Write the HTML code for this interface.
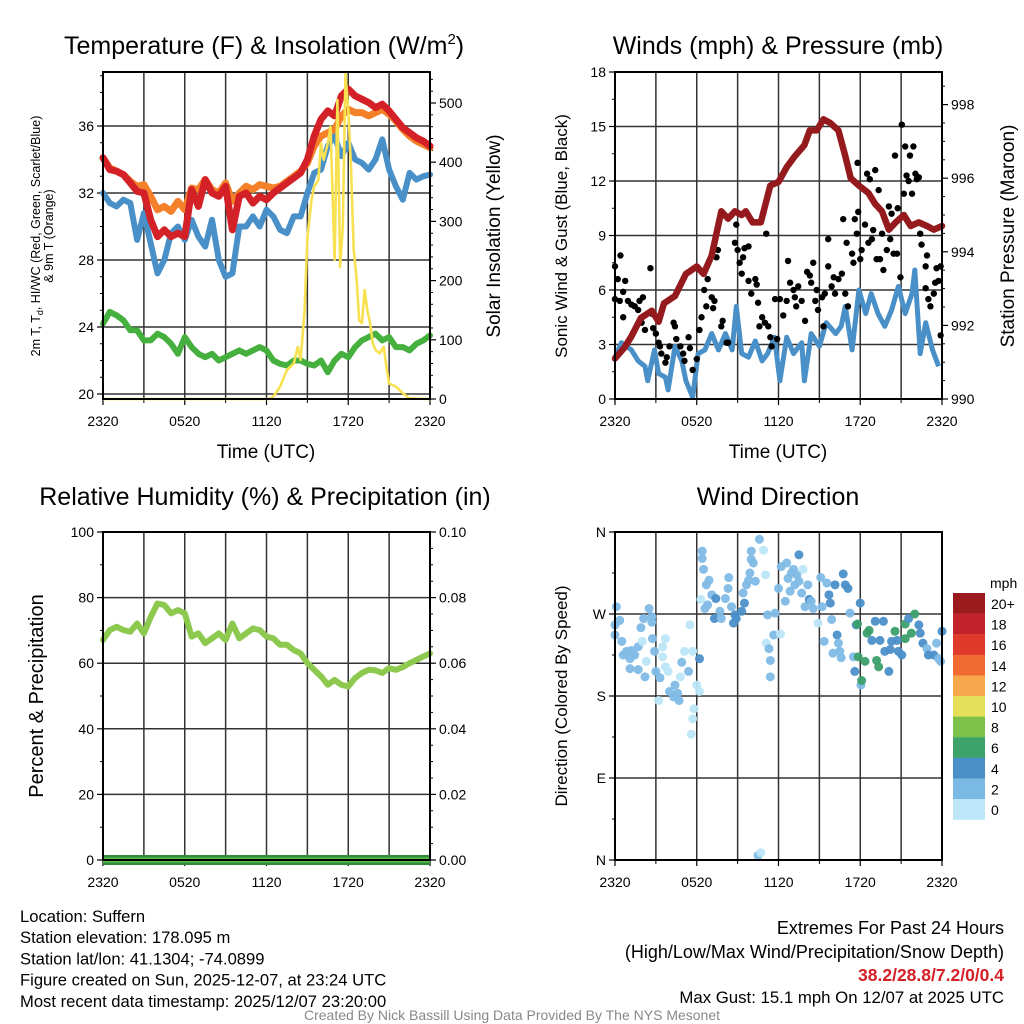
<!DOCTYPE html>
<html><head><meta charset="utf-8"><style>
html,body{margin:0;padding:0;background:#fff;}
svg{display:block;font-family:"Liberation Sans",sans-serif;}
</style></head><body>
<svg id="c" width="1024" height="1024" viewBox="0 0 1024 1024"></svg>
<script>
// ---------- data ----------
const hours = [0,0.5,1,1.5,2,2.5,3,3.5,4,4.5,5,5.5,6,6.5,7,7.5,8,8.5,9,9.5,10,10.5,11,11.5,12,12.5,13,13.5,14,14.5,15,15.5,16,16.5,17,17.5,18,18.5,19,19.5,20,20.5,21,21.5,22,22.5,23,23.5,24];
const tempRed = [34.1,33.4,33.3,33.1,32.6,32.1,32.0,30.4,29.4,29.8,29.4,29.6,29.4,32.2,31.2,32.8,32.0,31.8,32.4,29.8,31.8,32.0,31.4,31.8,31.6,32.0,32.3,32.6,32.9,33.2,34.0,35.4,36.4,36.9,36.6,37.8,38.2,37.8,37.6,37.4,37.1,37.3,36.9,36.4,35.9,35.6,35.3,35.1,34.8];
const tempOrange = [34.1,33.5,33.3,33.1,32.7,32.4,32.5,31.8,31.0,31.2,30.9,31.5,31.0,32.3,32.2,32.8,32.2,32.0,32.6,31.5,32.0,32.4,32.2,32.5,32.4,32.3,32.4,32.7,33.0,33.3,33.8,34.8,35.4,35.6,35.8,36.6,37.0,36.8,36.8,36.6,36.8,37.0,36.7,36.3,35.8,35.4,35.1,34.9,34.7];
const tempBlue = [32.0,31.4,31.2,31.6,31.4,29.2,30.8,29.0,27.2,28.0,29.6,30.0,29.2,30.4,29.4,28.8,30.4,28.0,27.0,27.2,30.0,30.0,30.6,30.0,31.0,30.6,29.8,29.6,30.6,30.6,32.0,33.2,33.4,34.8,35.4,34.2,35.0,34.0,33.8,33.4,34.0,35.2,33.4,32.4,31.6,33.2,32.8,33.0,33.1];
const tempGreen = [24.2,24.9,24.7,24.4,23.8,23.8,23.2,23.2,23.6,23.4,23.0,22.4,23.4,22.8,22.4,22.2,22.4,22.0,22.2,22.4,22.6,22.4,22.6,22.8,22.6,22.0,21.8,21.7,22.0,22.0,21.8,21.7,22.0,21.3,22.0,22.4,22.2,22.8,23.2,23.4,23.6,23.2,23.4,22.8,22.8,22.6,23.0,23.2,23.5];
const solarT = [0,12.2,12.5,13,13.5,14,14.3,14.5,14.8,15,15.3,15.5,15.8,16,16.2,16.5,16.7,17,17.2,17.4,17.6,17.8,18,18.2,18.4,18.6,18.8,19,19.2,19.4,19.6,19.8,20,20.3,20.6,20.8,21,21.5,22,22.5,24];
const solarV = [0,0,4,21,49,60,88,66,150,274,336,359,370,432,404,432,460,235,505,223,291,550,488,392,252,207,133,128,184,150,128,94,83,77,88,55,26,21,10,1,0];
const pressT = [0,0.7,1.2,1.9,2.7,3.2,3.6,4.4,5.2,6.0,6.5,7.1,7.8,8.3,8.8,9.3,9.6,10.1,10.7,11.4,12.0,12.6,13.2,13.9,14.3,14.8,15.3,15.8,16.4,16.9,17.3,17.9,18.6,19.1,19.6,20.1,20.6,21.2,21.7,22.3,22.9,23.4,24];
const pressV = [991.1,991.4,991.7,992.2,992.4,992.1,992.6,992.8,993.4,993.6,993.4,993.9,995.1,994.9,995.1,995.0,995.1,994.8,994.8,995.8,995.9,996.3,996.6,996.9,997.3,997.3,997.6,997.5,997.3,996.6,996.0,995.8,995.6,995.3,995.1,994.6,994.8,995.0,994.7,994.8,994.7,994.6,994.7];
const windT = [0,0.47,1.2,1.7,2.2,2.4,2.9,3.2,3.7,3.9,4.4,4.9,5.2,5.7,6.1,6.6,7.1,7.6,8.1,8.6,8.9,9.3,9.8,10.3,10.8,11.2,11.7,12.1,12.6,13.1,13.7,13.9,14.4,15.0,15.5,16.2,16.6,16.9,17.4,17.9,18.4,18.8,19.3,19.8,20.3,20.8,21.3,21.8,22.0,22.4,22.8,23.3,23.75];
const windV = [2.3,3.1,2.7,2.1,1.8,1.0,2.7,1.4,1.2,0.5,2.9,2.1,1.0,0.1,2.5,2.7,3.6,2.7,3.6,2.7,5.1,2.5,2.3,3.2,2.1,2.5,3.4,1.0,3.4,2.5,3.1,1.0,3.6,2.9,4.2,3.6,4.0,5.1,2.7,6.0,4.7,5.8,4.7,4.0,4.9,6.2,4.7,5.8,7.1,2.5,4.2,2.7,1.8];
const gustT = [0,0.2,0.4,0,0.35,0.6,0.75,0.6,0.95,1.2,1.45,1.8,2.05,1.7,1.95,2.2,2.6,2.7,2.8,3.0,3.2,3.3,3.4,3.7,3.8,4.0,4.3,4.4,4.5,4.8,5.0,5.1,5.4,5.5,5.7,6.0,6.2,6.35,6.55,6.7,6.8,7.1,7.2,7.3,7.45,7.55,7.8,7.9,8.2,8.3,8.8,8.9,9.0,9.15,9.3,9.4,9.5,9.8,9.8,10.0,10.3,10.4,10.5,10.6,10.8,11.0,11.1,11.25,11.4,11.5,11.75,11.9,12.1,12.35,12.6,12.7,12.85,13.1,13.2,13.3,13.45,13.7,13.95,14.1,14.3,14.4,14.55,14.7,14.8,14.9,15.2,15.3,15.4,15.65,15.65,15.9,16.05,16.15,16.4,16.65,16.75,16.9,17.0,17.1,17.4,17.5,17.6,17.75,17.8,17.85,18.0,18.1,18.35,18.5,18.6,18.7,18.85,18.95,19.1,19.2,19.35,19.45,19.6,19.7,19.95,20.1,20.2,20.3,20.45,20.55,20.7,20.75,20.95,21.05,21.2,21.3,21.4,21.55,21.65,21.8,21.9,22.05,22.15,22.3,22.4,22.5,22.8,22.9,22.8,23.0,23.15,23.4,23.5,23.6,23.75,23.9,23.9];
const gustV = [7.3,6.6,7.9,5.5,5.4,5.9,6.5,4.5,5.4,5.2,5.1,5.4,5.6,4.9,4.2,3.8,7.2,4.7,3.9,3.6,3.1,2.9,2.5,2.0,2.3,2.9,4.2,4.0,3.3,2.9,2.5,2.1,3.4,2.8,1.6,2.2,3.8,4.5,6.0,5.1,6.6,5.6,5.0,5.4,7.8,8.2,4.0,4.3,3.1,3.1,8.6,9.6,8.2,7.5,6.9,7.8,8.3,8.4,6.5,5.8,6.6,6.3,5.3,4.0,4.5,4.2,9.1,4.0,3.4,2.9,5.5,3.3,5.5,4.6,5.4,7.6,6.4,6.0,5.6,5.1,6.2,5.4,4.3,7.0,6.8,6.4,7.5,5.4,6.0,4.9,5.6,4.0,5.8,8.8,7.3,6.2,6.7,5.8,6.6,6.9,9.9,5.8,8.6,5.1,8.0,7.5,9.9,9.1,13.0,10.3,7.7,8.2,9.6,12.4,8.6,12.1,8.8,9.3,12.6,7.7,11.5,7.7,9.1,7.1,8.2,10.6,8.8,10.2,8.0,13.4,8.0,10.5,6.7,15.1,11.3,13.9,12.3,12.0,13.4,11.3,13.9,12.4,12.1,12.2,9.1,8.5,7.3,7.9,6.1,5.5,5.1,5.8,6.4,7.2,6.5,3.5,7.3];
const rhV = [67.1,70.1,71.1,70.1,69.6,72.1,69.1,74.1,78.2,77.7,75.2,76.2,75.2,68.1,69.1,66.1,67.6,69.1,67.1,72.1,67.6,69.1,70.6,70.1,68.1,67.6,65.6,65.6,64.0,63.0,60.0,58.0,56.0,53.4,54.9,53.4,52.9,55.5,57.0,58.0,57.8,57.0,58.5,58.0,58.8,60.0,61.0,62.0,63.0];
const precipV = [0,0,0,0,0,0,0,0,0,0,0,0,0,0,0,0,0,0,0,0,0,0,0,0,0,0,0,0,0,0,0,0,0,0,0,0,0,0,0,0,0,0,0,0,0,0,0,0,0];
const dirT = [0,0.1,0.35,0,0.5,0.6,0.85,1.1,1.2,1.45,1.7,1.1,1.7,2.2,1.9,2.1,2.5,2.7,2.7,2.75,2.9,2.3,2,3.0,3.3,3.2,3.5,3.7,3.5,3.7,3.9,4.0,4.3,4.4,4.6,4.7,4.8,4.9,5.1,5.4,5.5,5.7,6.0,6.2,5.8,5.7,5.6,6.2,6.4,6.4,6.5,6.7,6.9,6.3,6.6,6.8,7.1,7.3,7.4,7.7,7.8,8.1,8.3,8.35,8.55,8.8,8.9,8.7,9.3,9.4,9.5,9.65,9.8,9.9,10.0,10.0,10.15,10.3,10.6,10.9,11.05,11.2,11.1,11.3,11.4,11.4,11.65,11.75,12.0,12.15,12.2,12.5,12.6,12.7,12.85,12.95,13.1,13.2,13.35,13.5,13.5,13.7,13.8,13.95,14.15,14.25,14.4,14.55,14.9,15.1,15.2,15.35,15.55,15.7,15.8,15.9,16.15,16.3,16.4,16.0,16.5,16.6,16.75,16.9,17.1,17.25,17.5,17.6,17.7,17.8,18.0,18.05,18.1,17.85,18.35,18.5,18.65,18.85,19.1,19.2,19.35,19.45,19.7,19.8,20.1,20.2,20.3,20.55,20.7,20.8,21.05,21.3,21.3,21.55,21.75,22.0,22.3,22.4,22.6,22.9,23.0,23.4,23.6,23.75,24,23.9,10.5,10.7];
const dirDeg = [258,278,263,247,240,225,229,221,230,225,234,210,209,201,255,265,276,267,261,243,229,218,240,207,200,175,234,243,223,212,207,185,179,192,183,175,201,217,229,207,258,229,192,185,166,155,138,221,339,331,319,302,307,286,276,280,291,265,287,273,265,287,298,310,278,269,265,260,273,293,282,302,307,315,330,339,326,306,352,340,313,269,238,232,219,201,247,271,298,248,322,284,326,309,295,315,319,302,313,335,306,293,319,278,302,286,284,276,260,310,278,240,304,291,282,264,302,247,238,227,229,222,314,302,298,271,223,207,258,259,282,192,197,223,218,249,252,241,262,219,212,241,262,229,207,231,240,251,241,229,225,259,243,265,249,270,258,249,238,232,225,225,238,221,251,218,5,8];
const dirSpd = [3,3,3,3,3,3,3,3,3,3,3,3,3,3,3,3,3,3,3,3,3,1,1,3,3,1,1,1,1,1,1,3,3,3,3,3,1,3,1,3,1,1,1,1,1,1,1,5,3,3,3,3,3,1,3,3,3,5,5,3,3,3,3,3,3,5,5,5,5,3,5,3,3,3,3,3,3,3,3,1,1,3,1,3,3,3,3,3,3,1,3,3,3,3,3,3,3,3,3,5,3,3,1,3,3,5,3,3,1,3,3,3,3,5,5,3,5,5,3,3,3,3,5,5,5,3,3,5,5,7,5,3,7,7,7,7,7,5,5,7,7,5,5,5,5,5,5,7,5,5,5,7,7,5,7,7,5,5,5,3,5,5,3,3,5,3,3,1];
const rhTicks = [0,20,40,60,80,100];
const xTickLabels = ["2320","0520","1120","1720","2320"];

// ---------- helpers ----------
const svg = document.getElementById('c');
const NS = 'http://www.w3.org/2000/svg';
function mk(tag, attrs, parent){const e=document.createElementNS(NS,tag);for(const k in attrs)e.setAttribute(k,attrs[k]);(parent||svg).appendChild(e);return e;}
function txt(s, attrs, parent){const e=mk('text',attrs,parent);e.textContent=s;return e;}
function pathFrom(xs, ys, sx, sy){let d='';for(let i=0;i<xs.length;i++){d+=(i?'L':'M')+sx(xs[i]).toFixed(1)+','+sy(ys[i]).toFixed(1);}return d;}

function panel(name, L, R, T, B){
  const g=mk('g',{});
  
  
  return {g,L,R,T,B,sx:h=>L+(R-L)*h/24};
}
function frame(p, hLines){
  const {g,L,R,T,B}=p;
  for(let h=3;h<24;h+=3){const x=p.sx(h);const l=mk('line',{x1:x,x2:x,y1:T,y2:B,stroke:'#333','stroke-width':1.5},g);}
  hLines.forEach(y=>{const l=mk('line',{x1:L,x2:R,y1:y,y2:y,stroke:'#333','stroke-width':1.5},g);});
  for(let h=0;h<=24;h+=6){
    const x=p.sx(h);
    mk('line',{x1:x,x2:x,y1:B,y2:B+6,stroke:'#000','stroke-width':1.2},g);
    const t=txt(xTickLabels[h/6],{x:x,y:B+27,'font-size':14,'text-anchor':'middle'},g);
    
  }
  for(let h=3;h<24;h+=6){const x=p.sx(h);mk('line',{x1:x,x2:x,y1:B,y2:B+4,stroke:'#000','stroke-width':1},g);}
}
function border(p){const {g,L,R,T,B}=p;const r=mk('rect',{x:L,y:T,width:R-L,height:B-T,fill:'none',stroke:'#000','stroke-width':2},g);}
function yTicks(p, vals, labels, sy, side, minors){
  const {g,L,R}=p;
  vals.forEach((v,i)=>{
    const y=sy(v);
    if(side==='left'){mk('line',{x1:L-6,x2:L,y1:y,y2:y,stroke:'#000','stroke-width':1.2},g);
      const t=txt(labels[i],{x:L-9,y:y+5,'font-size':14,'text-anchor':'end'},g);}
    else{mk('line',{x1:R,x2:R+6,y1:y,y2:y,stroke:'#000','stroke-width':1.2},g);
      const t=txt(labels[i],{x:R+9,y:y+5,'font-size':14,'text-anchor':'start'},g);}
  });
  (minors||[]).forEach(v=>{const y=sy(v);
    if(side==='left')mk('line',{x1:L-3,x2:L,y1:y,y2:y,stroke:'#000','stroke-width':1},g);
    else mk('line',{x1:R,x2:R+3,y1:y,y2:y,stroke:'#000','stroke-width':1},g);});
}
function seq(a,b,s){const r=[];for(let v=a;v<=b+1e-9;v+=s)r.push(+v.toFixed(4));return r;}

// ---------- Panel 1: Temperature ----------
{
const p=panel('temperature-panel',103,430,72,399);
const sy=v=>394-(v-20)*16.75;
const ss=v=>399-v*296/500;
frame(p,[20,24,28,32,36].map(sy));
yTicks(p,[20,24,28,32,36],['20','24','28','32','36'],sy,'left',seq(21,39,1).filter(v=>v%4));
yTicks(p,[0,100,200,300,400,500],['0','100','200','300','400','500'],ss,'right',seq(20,540,20).filter(v=>v%100));
const lines=[[tempBlue,'#4a90c8',6,'dewpoint-line-blue'],[tempOrange,'#f5802a',7,'temp-9m-line-orange'],[tempRed,'#d42027',7,'heat-index-line-red'],[tempGreen,'#45b03e',6,'dewpoint-line-green']];
lines.forEach(([arr,col,w,nm])=>{const e=mk('path',{d:pathFrom(hours,arr,p.sx,sy),fill:'none',stroke:col,'stroke-width':w,'stroke-linejoin':'round','stroke-linecap':'round'},p.g);});
const yl=mk('path',{d:pathFrom(solarT,solarV,p.sx,ss),fill:'none',stroke:'#f8e150','stroke-width':2.6,'stroke-linejoin':'round'},p.g);

border(p);
let t=txt('Temperature (F) & Insolation (W/m',{x:64,y:54,'font-size':25},p.g);
const sup=mk('tspan',{dy:-10,'font-size':15},t);sup.textContent='2';
const cl=mk('tspan',{dy:10},t);cl.textContent=')';

t=txt('Time (UTC)',{x:266,y:458,'font-size':19,'text-anchor':'middle'},p.g);
t=txt('2m T, T',{x:0,y:0,'font-size':12.5,'text-anchor':'middle',transform:'translate(40,236) rotate(-90)'},p.g);
const sb=mk('tspan',{dy:3,'font-size':9},t);sb.textContent='d';
const rest=mk('tspan',{dy:-3},t);rest.textContent=', HI/WC (Red, Green, Scarlet/Blue)';

t=txt('& 9m T (Orange)',{x:0,y:0,'font-size':12.5,'text-anchor':'middle',transform:'translate(53,236) rotate(-90)'},p.g);
t=txt('Solar Insolation (Yellow)',{x:0,y:0,'font-size':19,'text-anchor':'middle',transform:'translate(500,236) rotate(-90)'},p.g);
}

// ---------- Panel 2: Winds ----------
{
const p=panel('winds-panel',615,942,72,399);
const sy=v=>399-v*327/18;
const sp=v=>399-(v-990)*36.8;
frame(p,[3,6,9,12,15].map(sy));
yTicks(p,[0,3,6,9,12,15,18],['0','3','6','9','12','15','18'],sy,'left',seq(1.5,16.5,3));
yTicks(p,[990,992,994,996,998],['990','992','994','996','998'],sp,'right',seq(990.5,998.5,0.5).filter(v=>v%2));
const wl=mk('path',{d:pathFrom(windT,windV,p.sx,sy),fill:'none',stroke:'#4a90c8','stroke-width':5,'stroke-linejoin':'round'},p.g);

gustT.forEach((h,i)=>{const c=mk('circle',{cx:p.sx(h),cy:sy(gustV[i]),r:3.2,fill:'#000'},p.g);
  });
const pl=mk('path',{d:pathFrom(pressT,pressV,p.sx,sp),fill:'none',stroke:'#951a1d','stroke-width':6.5,'stroke-linejoin':'round','stroke-linecap':'round'},p.g);

border(p);
let t=txt('Winds (mph) & Pressure (mb)',{x:778,y:54,'font-size':25,'text-anchor':'middle'},p.g);
t=txt('Time (UTC)',{x:778,y:458,'font-size':19,'text-anchor':'middle'},p.g);
t=txt('Sonic Wind & Gust (Blue, Black)',{x:0,y:0,'font-size':17,'text-anchor':'middle',transform:'translate(567,236) rotate(-90)'},p.g);
t=txt('Station Pressure (Maroon)',{x:0,y:0,'font-size':19,'text-anchor':'middle',transform:'translate(1014,236) rotate(-90)'},p.g);
}

// ---------- Panel 3: RH ----------
{
const p=panel('humidity-panel',103,430,532,860);
const sy=v=>860-v*3.28;
const sq=v=>860-v*3280;
frame(p,[20,40,60,80].map(sy));
yTicks(p,rhTicks,rhTicks.map(String),sy,'left',seq(10,90,20));
yTicks(p,[0,0.02,0.04,0.06,0.08,0.1],['0.00','0.02','0.04','0.06','0.08','0.10'],sq,'right',seq(0.005,0.095,0.005).filter(v=>Math.round(v*1000)%20));
const pr=mk('path',{d:pathFrom(hours,precipV,p.sx,sq),fill:'none',stroke:'#2e8b3a','stroke-width':10},p.g);

const pr2=mk('path',{d:pathFrom(hours,precipV,p.sx,sq),fill:'none',stroke:'#5cbd4a','stroke-width':5},p.g);

const rl=mk('path',{d:pathFrom(hours,rhV,p.sx,sy),fill:'none',stroke:'#8dc94e','stroke-width':6,'stroke-linejoin':'round','stroke-linecap':'round'},p.g);

border(p);
let t=txt('Relative Humidity (%) & Precipitation (in)',{x:265,y:505,'font-size':25,'text-anchor':'middle'},p.g);
t=txt('Percent & Precipitation',{x:0,y:0,'font-size':20,'text-anchor':'middle',transform:'translate(43,696) rotate(-90)'},p.g);
}

// ---------- Panel 4: Wind direction ----------
{
const p=panel('wind-direction-panel',615,942,532,860);
const sy=v=>860-v*328/360;
frame(p,[90,180,270].map(sy));
yTicks(p,[0,90,180,270,360],['N','E','S','W','N'],sy,'left',[45,135,225,315]);
const cols=['#bde6f8','#bde6f8','#7fbbe6','#7fbbe6','#4b8fc9','#4b8fc9','#3c9f6a','#3c9f6a'];
dirT.forEach((h,i)=>{const c=mk('circle',{cx:p.sx(h),cy:sy(dirDeg[i]),r:4.5,fill:cols[Math.min(7,dirSpd[i])],'fill-opacity':0.95},p.g);
  });
border(p);
let t=txt('Wind Direction',{x:778,y:505,'font-size':25,'text-anchor':'middle'},p.g);
t=txt('Direction (Colored By Speed)',{x:0,y:0,'font-size':17,'text-anchor':'middle',transform:'translate(567,696) rotate(-90)'},p.g);
const cbCols=['#9b1a1e','#c2232a','#e03a2a','#f06a32','#f7a74c','#e6df5a','#7cc24a','#3ea36a','#4a90c8','#7ab9e4','#bde6f8'];
const cbLabels=['20+','18','16','14','12','10','8','6','4','2','0'];
const cb=mk('g',{});


cbCols.forEach((c,i)=>{mk('rect',{x:953,y:593+i*20.6,width:32,height:20.8,fill:c},cb);
  const l=txt(cbLabels[i],{x:991,y:593+i*20.6+16,'font-size':14},cb);});
t=txt('mph',{x:990,y:588,'font-size':14},cb);
}

// ---------- footer text ----------
{
const info=['Location: Suffern','Station elevation: 178.095 m','Station lat/lon: 41.1304; -74.0899','Figure created on Sun, 2025-12-07, at 23:24 UTC','Most recent data timestamp: 2025/12/07 23:20:00'];
info.forEach((s,i)=>{const t=txt(s,{x:20,y:922+i*21.2,'font-size':16.6});});
let t=txt('Extremes For Past 24 Hours',{x:1004,y:934,'font-size':18,'text-anchor':'end'});
t=txt('(High/Low/Max Wind/Precipitation/Snow Depth)',{x:1004,y:958,'font-size':18,'text-anchor':'end'});
t=txt('38.2/28.8/7.2/0/0.4',{x:1004,y:981,'font-size':17.5,'font-weight':'bold',fill:'#d42027','text-anchor':'end'});
t=txt('Max Gust: 15.1 mph On 12/07 at 2025 UTC',{x:1004,y:1003,'font-size':16.8,'text-anchor':'end'});
t=txt('Created By Nick Bassill Using Data Provided By The NYS Mesonet',{x:512,y:1020,'font-size':14,fill:'#888','text-anchor':'middle'});
}
</script>
</body></html>
